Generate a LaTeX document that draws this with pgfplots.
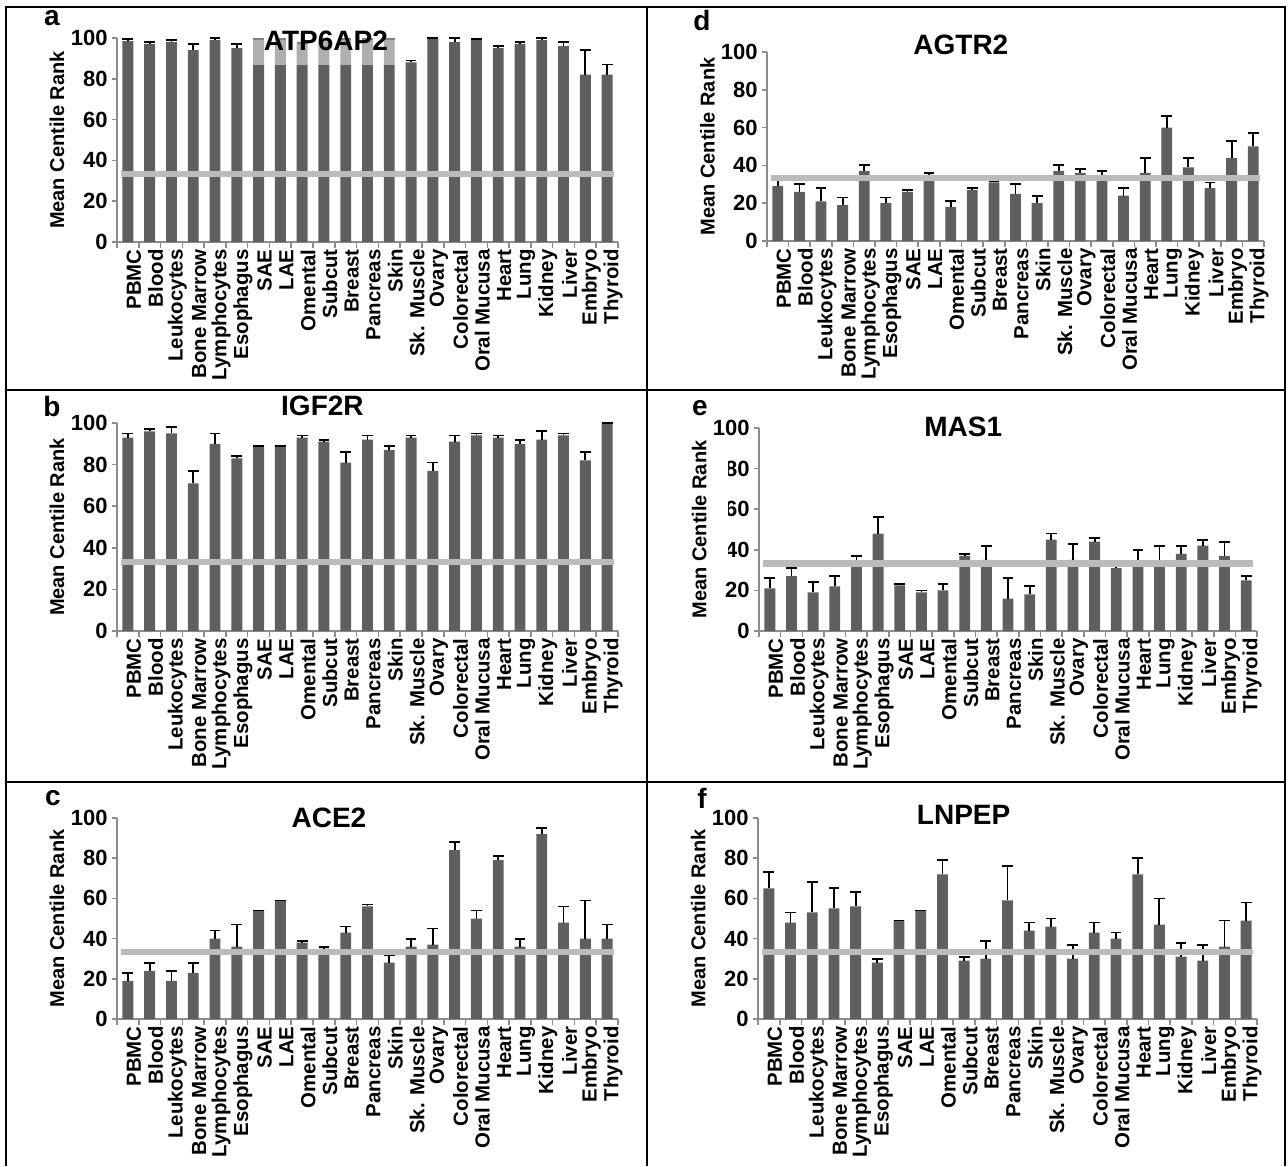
\documentclass[border=0pt]{standalone}
\usepackage{pgfplots}
\pgfplotsset{compat=1.18}
\usepackage{pgfplotstable}
\usepackage{fontspec}
\setmainfont{Liberation Sans}
\usetikzlibrary{calc}
\definecolor{barc}{HTML}{5F5F5F}
\definecolor{refl}{HTML}{BBBBBB}
\definecolor{axc}{HTML}{8C8C8C}

% columns: x value errplus
\pgfplotstableread{
x y e
0 98.5 1
1 97 1
2 98 1
3 94 3
4 99 1
5 95 2
6 99 0.5
7 99 0.5
8 97 0.5
9 99 0.5
10 99 0.5
11 99 0.5
12 99 0.5
13 88 1
14 99.5 0.5
15 98 2
16 99 0.5
17 95 1
18 97 1
19 99 1
20 96 2
21 82 12
22 82 5
}\tA
\pgfplotstableread{
x y e
0 93 2
1 96 1
2 95 3
3 71 6
4 90 5
5 83 1
6 89 0
7 89 0
8 93 1
9 91 1
10 81 5
11 92 2
12 87 2
13 93 1
14 77 4
15 91 3
16 94 1
17 93 1
18 90 2
19 92 4
20 94 1
21 82 4
22 100 0
}\tB
\pgfplotstableread{
x y e
0 19 4
1 24 4
2 19 5
3 23 5
4 40 4
5 36 11
6 54 0
7 59 0
8 38 1
9 35 1
10 43 3
11 56 1
12 28 4
13 36 4
14 37 8
15 84 4
16 50 4
17 79 2
18 36 4
19 92 3
20 48 8
21 40 19
22 40 7
}\tC
\pgfplotstableread{
x y e
0 29 4
1 26 4
2 21 7
3 19 4
4 37 3
5 20 3
6 26 1
7 35 1
8 18 3
9 27 1
10 31 0.5
11 25 5
12 20 4
13 37 3
14 36 2
15 34 3
16 24 4
17 36 8
18 60 6
19 39 5
20 28 3
21 44 9
22 50 7
}\tD
\pgfplotstableread{
x y e
0 21 5
1 27 4
2 19 5
3 22 5
4 33.5 3.5
5 48 8
6 22.5 0.5
7 19 1
8 20 3
9 37 1
10 35 7
11 16 10
12 18 4
13 45 3
14 35 8
15 44 2
16 31 1
17 33.5 6.5
18 34 8
19 38 4
20 42 3
21 37 7
22 25 2
}\tE
\pgfplotstableread{
x y e
0 65 8
1 48 5
2 53 15
3 55 10
4 56 7
5 28 2
6 49 0
7 54 0
8 72 7
9 29 2
10 30 9
11 59 17
12 44 4
13 46 4
14 30 7
15 43 5
16 40 3
17 72 8
18 47 13
19 31 7
20 29 8
21 36 13
22 49 9
}\tF

\pgfplotsset{
 panel/.style={
  scale only axis,
  anchor=south west,
  xmin=-0.5, xmax=22.5, ymin=0, ymax=100,
  axis x line*=bottom, axis y line*=left,
  axis line style={axc, line width=0.8pt},
  xtick={0,...,22},
  xticklabels={PBMC,Blood,Leukocytes,Bone Marrow,Lymphocytes,Esophagus,SAE,LAE,Omental,Subcut,Breast,Pancreas,Skin,Sk. Muscle,Ovary,Colorectal,Oral Mucusa,Heart,Lung,Kidney,Liver,Embryo,Thyroid},
  major x tick style={draw=none},
  minor xtick={-0.5,0.5,...,22.5},
  minor x tick style={axc, line width=0.8pt},
  minor tick length=3pt,
  ytick={0,20,...,100},
  y tick style={axc, line width=0.8pt},
  major tick length=2.5pt,
  tick align=outside,
  xticklabel style={rotate=90, anchor=east, font=\bfseries\fontsize{10.2}{11}\selectfont, inner sep=1pt, yshift=-3pt},
  yticklabel style={font=\bfseries\fontsize{11}{12}\selectfont, inner sep=2pt},
  /pgf/number format/assume math mode=true,
  ylabel={Mean Centile Rank},
  ylabel style={font=\bfseries\fontsize{10}{11}\selectfont, at={(axis description cs:-0.12,0.5)}, anchor=center},
  title style={font=\bfseries\fontsize{14}{15}\selectfont, anchor=center},
  clip=false,
 },
 bars/.style={ybar, bar width=0.5, bar shift=0pt, fill=barc, draw=none,
   error bars/.cd, y dir=plus, y explicit,
   error bar style={black, line width=0.9pt},
   error mark options={black, line width=0.9pt, mark size=2.7pt, rotate=90}},
 refline/.style={refl, line width=3.2pt, no marks, forget plot},
}
\tikzset{plet/.style={font=\bfseries\fontsize{14}{15}\selectfont}}

\begin{document}
\begin{tikzpicture}
\useasboundingbox (0pt,0pt) rectangle (644pt,-583pt);
% frames
\draw[line width=1pt] (3pt,-583pt) -- (3pt,-3.5pt) -- (642.5pt,-3.5pt) -- (642.5pt,-583pt);
\draw[line width=1pt] (323.5pt,-3.5pt) -- (323.5pt,-583pt);
\draw[line width=1pt] (3pt,-195pt) -- (642.5pt,-195pt);
\draw[line width=1pt] (3pt,-391pt) -- (642.5pt,-391pt);

% a
\begin{axis}[panel, at={(58.5pt,-121pt)}, width=250.5pt, height=102pt,
  title={ATP6AP2}, title style={at={(axis description cs:0.417,0.928)}}]
\addplot[bars] table[x=x, y=y, y error=e]{\tA};
\addplot[refline] coordinates {(-0.3,33.3) (22.3,33.3)};
\fill[white, opacity=0.5] (axis cs:5.7,87) rectangle (axis cs:12.27,100.3);
\end{axis}
\node[plet] at (26pt,-9pt) {a};

% b
\begin{axis}[panel, at={(58.5pt,-315.5pt)}, width=250.5pt, height=104pt,
  title={IGF2R}, title style={at={(axis description cs:0.41,1.025)}}]
\addplot[bars] table[x=x, y=y, y error=e]{\tB};
\addplot[refline] coordinates {(-0.3,33.3) (22.3,33.3)};
\end{axis}
\node[plet] at (26pt,-203pt) {b};

% c
\begin{axis}[panel, at={(58.5pt,-509.5pt)}, width=250.5pt, height=100.5pt,
  title={ACE2}, title style={at={(axis description cs:0.423,0.939)}}]
\addplot[bars] table[x=x, y=y, y error=e]{\tC};
\addplot[refline] coordinates {(-0.3,33.3) (22.3,33.3)};
\end{axis}
\node[plet] at (26.5pt,-399pt) {c};

% d
\begin{axis}[panel, at={(383.5pt,-120.5pt)}, width=248.5pt, height=94.5pt,
  title={AGTR2}, title style={at={(axis description cs:0.39,0.975)}}]
\addplot[bars] table[x=x, y=y, y error=e]{\tD};
\addplot[refline] coordinates {(-0.3,33.3) (22.3,33.3)};
\end{axis}
\node[plet] at (351pt,-10pt) {d};

% e
\begin{axis}[panel, name=pe, at={(379.5pt,-315.5pt)}, width=249pt, height=101.5pt,
  title={MAS1}, title style={at={(axis description cs:0.41,0.945)}}]
\addplot[bars] table[x=x, y=y, y error=e]{\tE};
\addplot[refline] coordinates {(-0.3,33.3) (22.3,33.3)};
\end{axis}
\fill[white] ($(pe.south west)!0.86!(pe.north west)+(-24pt,0)$) rectangle ($(pe.south west)!0.36!(pe.north west)+(-15.5pt,0)$);
\node[plet] at (350pt,-204pt) {e};

% f
\begin{axis}[panel, at={(379pt,-509.5pt)}, width=249.5pt, height=100.5pt,
  title={LNPEP}, title style={at={(axis description cs:0.412,0.955)}}]
\addplot[bars] table[x=x, y=y, y error=e]{\tF};
\addplot[refline] coordinates {(-0.3,33.3) (22.3,33.3)};
\end{axis}
\node[plet] at (351pt,-399pt) {f};
\end{tikzpicture}
\end{document}
